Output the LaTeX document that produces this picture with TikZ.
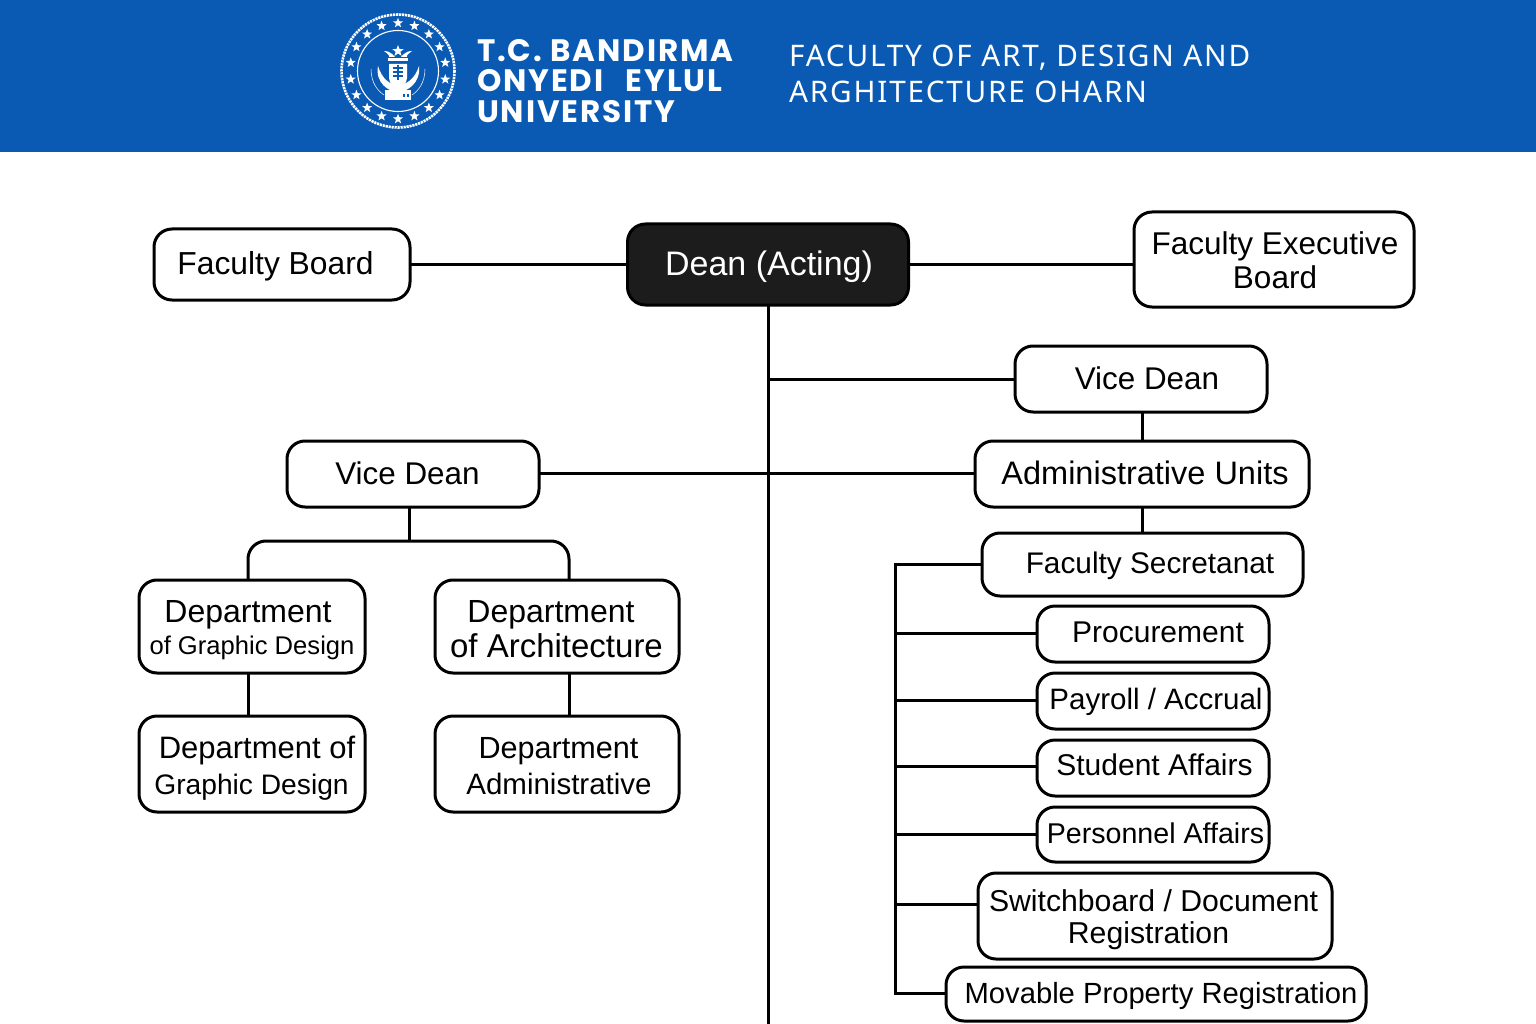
\documentclass[tikz,border=0pt]{standalone}
\usepackage{fontspec}
\setmainfont{Liberation Sans}
\newfontfamily\headfont[LetterSpace=6]{Poppins}
\newfontfamily\titlefont[LetterSpace=6]{Noto Sans}
\usetikzlibrary{shapes.geometric}
\usetikzlibrary{positioning}
\definecolor{headblue}{HTML}{0A5AB4}
\definecolor{deanblack}{HTML}{1C1C1C}
% size, sideways push, lift, words
\newcommand{\unitline}[4]{\hspace*{#2pt}\raisebox{#3pt}[0.7em][0.2em]{\fontsize{#1}{34}\selectfont #4}}
\tikzset{
  unit/.style={draw=black, line width=3pt, fill=white, rounded corners=18pt, inner sep=0pt, outer sep=0pt, align=center, font=\fontsize{31}{34}\selectfont},
  conn/.style={draw=black, line width=3pt},
  badgestar/.style={star, star points=5, star point ratio=2.4, fill=white, inner sep=0pt, minimum size=10.5pt},
}
\begin{document}
\begin{tikzpicture}[x=1pt,y=-1pt]
    \useasboundingbox (0,0) rectangle (1536,1024);

    % Header band
    \fill[headblue] (0,0) rectangle (1536,152);

    % Badge
    \begin{scope}[shift={(398,71)}]
        \draw[white, line width=2.6pt, dash pattern=on 2.2pt off 0.8pt] (0,0) circle (56.5);
        \draw[white, line width=1.1pt] (0,0) circle (40.5);
        \foreach \a in {0,20,...,340}
            \node[badgestar] (badge\a) at (\a+90:48) {};
        % crescent
        \fill[white] (-20,-5) .. controls (-23,12) and (-9,21) .. (0,21) .. controls (9,21) and (23,12) .. (21,-5)
            .. controls (17,8) and (8,14) .. (0,14) .. controls (-8,14) and (-16,8) .. (-20,-5) -- cycle;
        \fill[white] (-13,19) rectangle (13,29);
        \fill[headblue] (5,23) rectangle (7,26);
        \fill[headblue] (9,23) rectangle (11,26);
        % shield
        \fill[white] (-9,-7) -- (9,-7) -- (9,7) .. controls (9,13) and (3,16) .. (0,17) .. controls (-3,16) and (-9,13) .. (-9,7) -- cycle;
        \foreach \y in {-3,1,5}
            \draw[headblue, line width=1.1pt] (-5,\y) -- (5,\y);
        \draw[headblue, line width=1.1pt] (0,-6) -- (0,9);
        % crown
        \fill[white] (-10,-13) rectangle (10,-10);
        \node[badgestar, minimum size=12pt] (badgetop) at (0,-20) {};
        \fill[white] (-3,-14) .. controls (-8,-20) and (-12,-20) .. (-14,-20) .. controls (-10,-17) and (-8,-15) .. (-9,-14) -- cycle;
        \fill[white] (3,-14) .. controls (8,-20) and (12,-20) .. (14,-20) .. controls (10,-17) and (8,-15) .. (9,-14) -- cycle;
        % thin arcs
        \draw[white, line width=0.5pt] (-27,-2) .. controls (-27,12) and (-20,20) .. (-14,24);
        \draw[white, line width=0.5pt] (27,-2) .. controls (27,12) and (20,20) .. (14,24);
    \end{scope}

    % Header text
    \node[anchor=west, text=white, inner sep=0pt, align=left, font=\headfont\bfseries\fontsize{31}{30.5}\selectfont] (uniname) at (477,81) {T.C. BANDIRMA\\ONYEDI\hspace{14pt} EYLUL\\UNIVERSITY};
    \node[anchor=west, text=white, inner sep=0pt, align=left, font=\titlefont\fontsize{29.7}{36}\selectfont] (chart) at (789,74) {FACULTY OF ART, DESIGN AND\\ARGHITECTURE OHARN};

    % Top row
    \node[unit, minimum width=256pt, minimum height=71pt] (fboard) at (282,264.5) {\unitline{31.8}{-13}{-2}{Faculty Board}};
    \node[unit, minimum width=281pt, minimum height=81pt, fill=deanblack, text=white] (dean) at (768,264.5) {\unitline{34}{2}{-3}{Dean (Acting)}};
    \node[unit, minimum width=280pt, minimum height=95pt] (fexec) at (1274,259.5) {\unitline{31.5}{2}{-4}{Faculty Executive}\\\unitline{31.5}{2}{-4}{Board}};

    % Right column
    \node[unit, minimum width=252pt, minimum height=66pt] (vdright) at (1141,379) {\unitline{31.4}{12}{-3}{Vice Dean}};
    \node[unit, minimum width=334pt, minimum height=66pt] (admin) at (1142,474) {\unitline{32.5}{6}{-3}{Administrative Units}};
    \node[unit, minimum width=321pt, minimum height=63pt] (secretariat) at (1142.5,564.5) {\unitline{29.8}{15}{-1}{Faculty Secretanat}};
    \node[unit, minimum width=232pt, minimum height=56pt] (procure) at (1153,634) {\unitline{30}{10}{-1}{Procurement}};
    \node[unit, minimum width=232pt, minimum height=56pt] (payroll) at (1153,701) {\unitline{29.5}{6}{-1}{Payroll / Accrual}};
    \node[unit, minimum width=232pt, minimum height=56pt] (student) at (1153,768) {\unitline{30}{3}{0}{Student Affairs}};
    \node[unit, minimum width=232pt, minimum height=55pt] (personnel) at (1153,834.5) {\unitline{28.6}{5}{-1}{Personnel Affairs}};
    \node[unit, minimum width=354pt, minimum height=86pt, font=\fontsize{31}{32}\selectfont] (switchb) at (1155,916) {\unitline{30.2}{-3}{-4}{Switchboard / Document}\\\unitline{30.2}{-13}{-4}{Registration}};
    \node[unit, minimum width=420pt, minimum height=54pt] (movable) at (1156,994) {\unitline{29.2}{10}{-2}{Movable Property Registration}};

    % Left column
    \node[unit, minimum width=252pt, minimum height=66pt] (vdleft) at (413,474) {\unitline{31.4}{-11}{-3}{Vice Dean}};
    \node[unit, minimum width=226pt, minimum height=93pt] (depgraphic) at (252,626.5) {\unitline{32}{-8}{-5}{Department}\\\unitline{25.6}{0}{-3}{of Graphic Design}};
    \node[unit, minimum width=244pt, minimum height=93pt] (deparch) at (557,626.5) {\unitline{32}{-12}{-5}{Department}\\\unitline{33}{-1}{-6}{of Architecture}};
    \node[unit, minimum width=226pt, minimum height=96pt, font=\fontsize{31}{36}\selectfont] (depgraphicb) at (252,764) {\unitline{31}{10}{-5}{Department of}\\\unitline{28.2}{-1}{-5}{Graphic Design}};
    \node[unit, minimum width=244pt, minimum height=96pt, font=\fontsize{31}{36}\selectfont] (depadmin) at (557,764) {\unitline{30.6}{3}{-5}{Department}\\\unitline{29.5}{4}{-5}{Administrative}};

    % Connectors
    \coordinate (foot) at (768,1024);
    \coordinate (rail) at (895,564.5);
    \draw[conn] (fboard.east) -- (dean.west);
    \draw[conn] (dean.east) -- (fexec.west |- dean.east);
    \draw[conn] (dean.south) -- (foot);
    \draw[conn] (foot |- vdright.west) -- (vdright.west);
    \draw[conn] ([yshift=1pt]vdleft.east) -- ([yshift=1pt]admin.west);
    \draw[conn] (vdright.south -| admin.north) -- (admin.north);
    \draw[conn] (admin.south) -- (admin.south |- secretariat.north);
    \draw[conn] (secretariat.west) -- (rail) -- ([yshift=1pt]rail |- movable.west) -- ([yshift=1pt]movable.west);
    \foreach \n/\s in {procure/1,payroll/1,student/2,personnel/0,switchb/12}
        \draw[conn] ([yshift=\s pt]rail |- \n.west) -- ([yshift=\s pt]\n.west);

    % Left fork
    \draw[conn] ([xshift=-4pt]vdleft.south) -- ++(0,34) coordinate (fork);
    \draw[conn, rounded corners=18pt] ([xshift=-4pt]depgraphic.north) |- (fork) -| ([xshift=12pt]deparch.north);
    \draw[conn] ([xshift=-4pt]depgraphic.south) -- ([xshift=-4pt]depgraphicb.north);
    \draw[conn] ([xshift=12pt]deparch.south) -- ([xshift=12pt]depadmin.north);
\end{tikzpicture}
\end{document}
